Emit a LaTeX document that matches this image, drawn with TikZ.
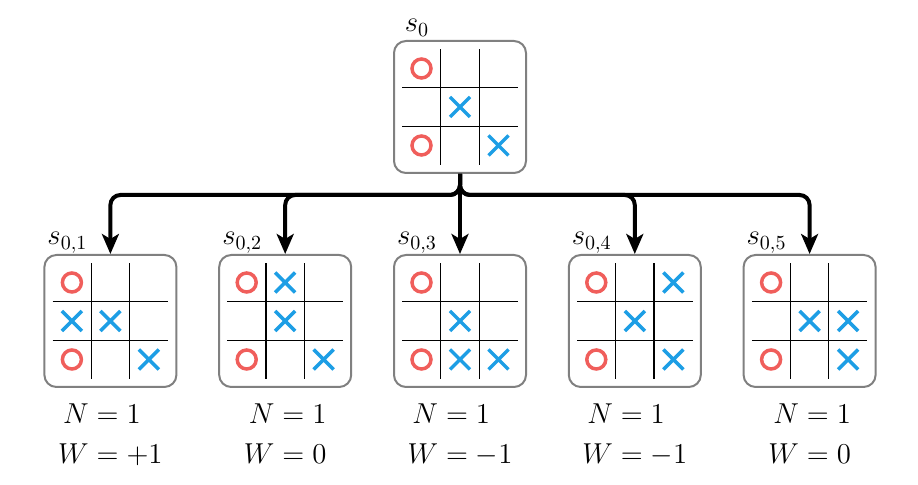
\documentclass[tikz,border=0pt]{standalone}
\usepackage{amsmath,amssymb}
\usepackage{xcolor}
\usepackage{tikz}
\usetikzlibrary{arrows.meta}
\usetikzlibrary{positioning}

\definecolor{oxred}{RGB}{240,94,91}
\definecolor{xblue}{RGB}{29,158,229}
\definecolor{boxgray}{RGB}{128,128,128}

\tikzset{
  board/.style={draw=boxgray, line width=1pt, rounded corners=6pt, minimum size=66pt, inner sep=0pt},
  gridline/.style={line width=0.6pt},
  omark/.style={draw=oxred, line width=1.75pt},
  xmark/.style={draw=xblue, line width=1.75pt},
  link/.style={line width=2pt, rounded corners=5pt, -{Stealth[length=10pt,width=8.5pt,inset=2.5pt]}},
  value/.style={inner sep=0pt},
  slabel/.style={anchor=base}
}

\newcommand{\tttboard}[3]{%
  \begin{scope}[shift={(#1.center)}, x=19.25pt, y=-19.25pt]
    \foreach \k in {-0.5,0.5} {
      \draw[gridline] (\k,-1.5) -- (\k,1.5);
      \draw[gridline] (-1.5,\k) -- (1.5,\k);
    }
    \foreach \c/\r in {#2} \draw[omark] (\c-2,\r-2) circle (4.75pt);
    \foreach \c/\r in {#3} \draw[xmark] (\c-2,\r-2) +(-5pt,-5pt) -- +(5pt,5pt) +(-5pt,5pt) -- +(5pt,-5pt);
  \end{scope}}

\begin{document}
\begin{tikzpicture}[x=0.5pt, y=-0.5pt, font=\fontsize{14.6}{17}\selectfont]
    \useasboundingbox (0,0) rectangle (918,485);

    \node[board] (s0) at (460,107) {};
    \node[board, below=40pt of s0] (s03) {};
    \node[board, left=20.4pt of s03] (s02) {};
    \node[board, left=20.4pt of s02] (s01) {};
    \node[board, right=20.4pt of s03] (s04) {};
    \node[board, right=20.4pt of s04] (s05) {};

    \node[slabel] (l0) at ([xshift=12pt,yshift=4pt]s0.north west) {$s_0$};
    \foreach \i in {1,...,5}
        \node[slabel] (l0\i) at ([xshift=12pt,yshift=4.5pt]s0\i.north west) {$s_{0,\i}$};

    \tttboard{s0}{1/1,1/3}{2/2,3/3}
    \tttboard{s01}{1/1,1/3}{1/2,2/2,3/3}
    \tttboard{s02}{1/1,1/3}{2/1,2/2,3/3}
    \tttboard{s03}{1/1,1/3}{2/2,2/3,3/3}
    \tttboard{s04}{1/1,1/3}{3/1,2/2,3/3}
    \tttboard{s05}{1/1,1/3}{2/2,3/2,3/3}

    \foreach \i in {1,2,4,5}
        \draw[link] (s0.south) -- ++(0pt,-10.5pt) -| (s0\i.north);
    \draw[link] (s0.south) -- (s03.north);

    \node[value, below=5.6pt of s01] (v01) {$\begin{aligned} N &= 1\\ W &= +1 \end{aligned}$};
    \node[value, below=5.6pt of s02] (v02) {$\begin{aligned} N &= 1\\ W &= 0 \end{aligned}$};
    \node[value, below=5.6pt of s03] (v03) {$\begin{aligned} N &= 1\\ W &= -1 \end{aligned}$};
    \node[value, below=5.6pt of s04] (v04) {$\begin{aligned} N &= 1\\ W &= -1 \end{aligned}$};
    \node[value, below=5.6pt of s05] (v05) {$\begin{aligned} N &= 1\\ W &= 0 \end{aligned}$};
\end{tikzpicture}
\end{document}
